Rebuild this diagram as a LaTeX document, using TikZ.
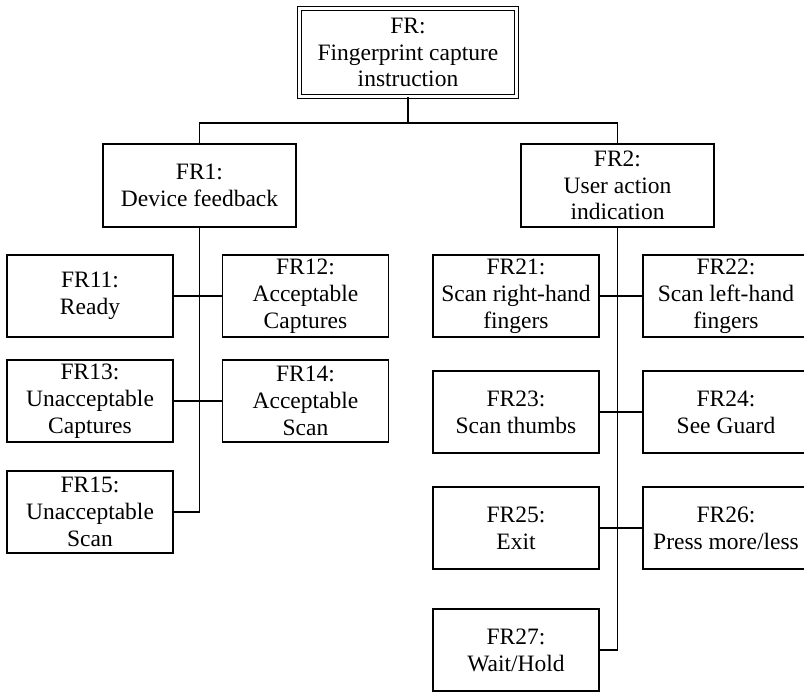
\documentclass[tikz,border=0pt]{standalone}
\usepackage{fontspec}
\setmainfont{Liberation Serif}
\begin{document}
\begin{tikzpicture}[x=1pt,y=-1pt,
  every node/.style={font=\fontsize{23.5}{26.8}\selectfont, align=center, inner sep=0pt},
  frbox/.style={draw, line width=1.3pt, minimum width=166pt, minimum height=82pt},
  midbox/.style={draw, line width=1.3pt, minimum width=193pt, minimum height=83pt},
  topbox/.style={draw, double, line width=1.2pt, double distance=2.6pt,
                 minimum width=217pt, minimum height=88pt},
  link/.style={line width=1.3pt}]
\useasboundingbox (0,0) rectangle (804,692);
\clip (0,0) rectangle (804,692);

% root and first level
\node[topbox] (FR)  at (408,52.5)  {FR:\\Fingerprint capture\\instruction};
\node[midbox] (FR1) at (199.5,185.5) {FR1:\\Device feedback};
\node[midbox] (FR2) at (617.5,185.5) {FR2:\\User action\\indication};

% children of FR1
\node[frbox] (FR11) at (90,296)    {FR11:\\Ready};
\node[frbox] (FR12) at (305.5,296) {FR12:\\Acceptable\\Captures};
\node[frbox] (FR13) at (90,401)    {FR13:\\Unacceptable\\Captures};
\node[frbox] (FR14) at (305.5,401) {FR14:\\Acceptable\\Scan};
\node[frbox] (FR15) at (90,512)    {FR15:\\Unacceptable\\Scan};

% children of FR2
\node[frbox] (FR21) at (516,296) {FR21:\\Scan right-hand\\fingers};
\node[frbox] (FR22) at (726,296) {FR22:\\Scan left-hand\\fingers};
\node[frbox] (FR23) at (516,412) {FR23:\\Scan thumbs};
\node[frbox] (FR24) at (726,412) {FR24:\\See Guard};
\node[frbox] (FR25) at (516,528) {FR25:\\Exit};
\node[frbox] (FR26) at (726,528) {FR26:\\Press more/less};
\node[frbox] (FR27) at (516,650) {FR27:\\Wait/Hold};

% tree connectors
\coordinate (bus) at (408,123);
\draw[link] (FR.south) -- (bus);
\draw[link] (FR1.north) -- (FR1.north |- bus) -- (FR2.north |- bus) -- (FR2.north);

\draw[link] (FR1.south) |- (FR15.east);
\draw[link] (FR11.east) -- (FR12.west);
\draw[link] (FR13.east) -- (FR14.west);

\draw[link] (FR2.south) |- (FR27.east);
\draw[link] (FR21.east) -- (FR22.west);
\draw[link] (FR23.east) -- (FR24.west);
\draw[link] (FR25.east) -- (FR26.west);
\end{tikzpicture}
\end{document}
